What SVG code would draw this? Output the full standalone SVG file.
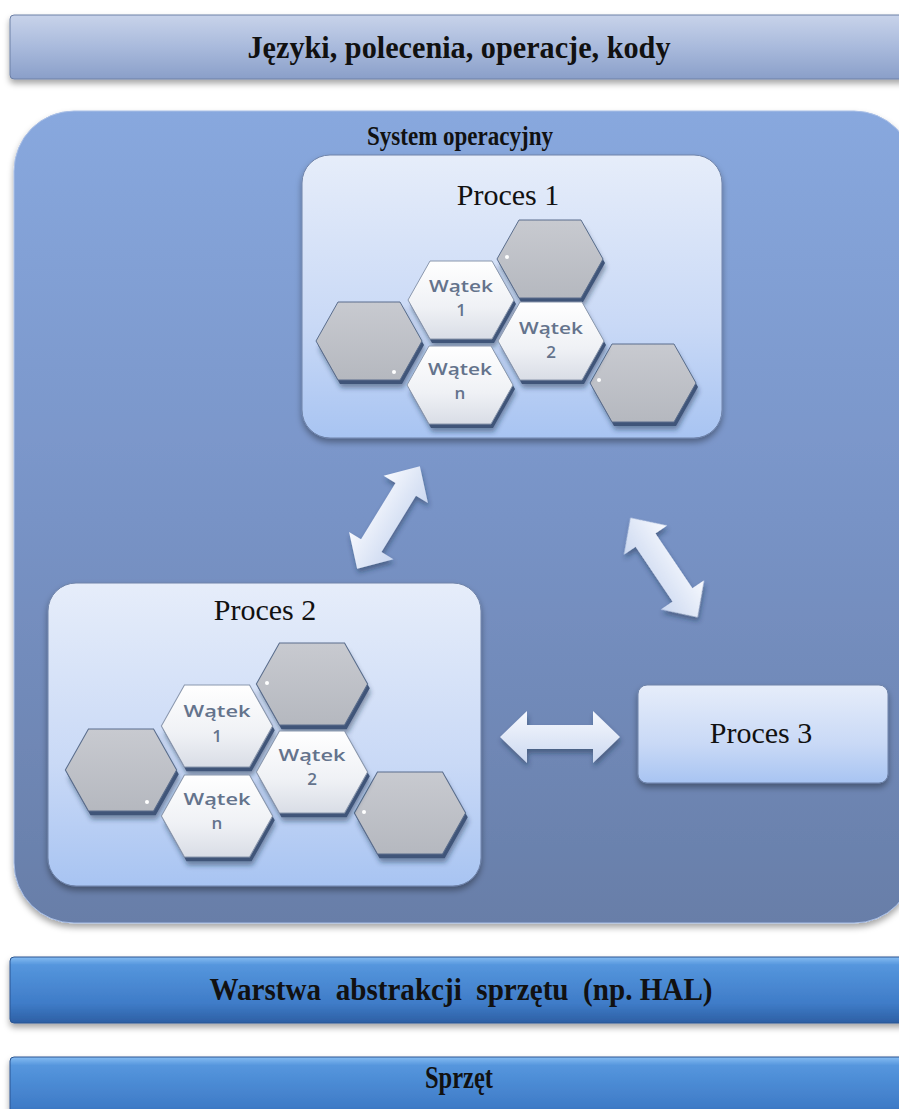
<svg xmlns="http://www.w3.org/2000/svg" xmlns:xlink="http://www.w3.org/1999/xlink" width="899" height="1109" viewBox="0 0 899 1109">
<style>
.title{font-family:"Liberation Serif","Times New Roman",serif;font-weight:bold;fill:#111;text-anchor:middle;white-space:pre}
.proc{font-family:"Liberation Serif","Times New Roman",serif;font-size:30px;fill:#111;text-anchor:middle}
.hx{font-family:"Open Sans","Noto Sans",sans-serif;font-weight:600;font-size:17px;fill:#64738c;text-anchor:middle}
.dot{fill:#fff}
</style>
<defs>
<linearGradient id="gTop" x1="0" y1="0" x2="0" y2="1">
<stop offset="0" stop-color="#c8d3ea"/><stop offset="0.5" stop-color="#a9badc"/><stop offset="1" stop-color="#8a9fc9"/>
</linearGradient>
<linearGradient id="gBlue" x1="0" y1="0" x2="0" y2="1">
<stop offset="0" stop-color="#86bcf2"/><stop offset="0.12" stop-color="#5596dd"/><stop offset="0.7" stop-color="#3f7cc8"/><stop offset="1" stop-color="#2d5fa4"/>
</linearGradient>
<linearGradient id="gOS" x1="0" y1="0" x2="0" y2="1">
<stop offset="0" stop-color="#88a8de"/><stop offset="0.5" stop-color="#7893c6"/><stop offset="1" stop-color="#687ea8"/>
</linearGradient>
<linearGradient id="gProc" x1="0" y1="0" x2="0" y2="1">
<stop offset="0" stop-color="#e6edfa"/><stop offset="0.6" stop-color="#c9d9f6"/><stop offset="1" stop-color="#a8c4f2"/>
</linearGradient>
<linearGradient id="gHexW" x1="0" y1="0" x2="0" y2="1">
<stop offset="0" stop-color="#ffffff"/><stop offset="0.6" stop-color="#eff1f5"/><stop offset="1" stop-color="#d9dde6"/>
</linearGradient>
<linearGradient id="gHexG" x1="0" y1="0" x2="0" y2="1">
<stop offset="0" stop-color="#c8cad0"/><stop offset="1" stop-color="#b5b8bf"/>
</linearGradient>
<linearGradient id="gArrow" x1="0" y1="0" x2="0" y2="1">
<stop offset="0" stop-color="#f7f9fe"/><stop offset="1" stop-color="#cbd8f0"/>
</linearGradient>
<filter id="shadow" x="-10%" y="-10%" width="120%" height="130%">
<feDropShadow dx="0" dy="4" stdDeviation="3" flood-color="#000" flood-opacity="0.35"/>
</filter>
<filter id="shadowS" x="-20%" y="-20%" width="140%" height="150%">
<feDropShadow dx="1" dy="4" stdDeviation="2.5" flood-color="#1a2a45" flood-opacity="0.45"/>
</filter>
<polygon id="hex" points="-53,0 -31,-39 31,-39 53,0 31,39 -31,39"/>
<g id="hexGray">
<use xlink:href="#hex" transform="translate(2,4)" fill="#3f5479" filter="url(#shadowS)"/>
<use xlink:href="#hex" fill="url(#gHexG)" stroke="#5a6d8c" stroke-width="1"/>
</g>
<g id="hexWhite">
<use xlink:href="#hex" transform="translate(2,4)" fill="#3f5479" filter="url(#shadowS)"/>
<use xlink:href="#hex" fill="url(#gHexW)" stroke="#8a97ad" stroke-width="1"/>
</g>
<path id="dblArrow" d="M -60 0 L -33 -26 L -33 -12 L 33 -12 L 33 -26 L 60 0 L 33 26 L 33 12 L -33 12 L -33 26 Z"/>
</defs>

<rect width="899" height="1109" fill="#ffffff"/>

<g id="top-bar">
<rect x="10" y="15" width="900" height="64" rx="4" fill="url(#gTop)" stroke="#6d80a6" stroke-width="1" filter="url(#shadow)"/>
<text class="title" x="459" y="58" font-size="32" textLength="423" lengthAdjust="spacingAndGlyphs">Języki, polecenia, operacje, kody</text>
</g>

<g id="os">
<rect x="14" y="111" width="900" height="812" rx="60" fill="url(#gOS)" stroke="#a9bfe6" stroke-width="1" filter="url(#shadow)"/>
<text class="title" x="460" y="145" font-size="27" textLength="186" lengthAdjust="spacingAndGlyphs">System operacyjny</text>
</g>

<g id="proces1">
<rect x="302" y="155" width="420" height="283" rx="28" fill="url(#gProc)" stroke="#6e82a8" stroke-width="1" filter="url(#shadow)"/>
<text class="proc" x="508" y="205">Proces 1</text>
<g id="p1-hex-gray-left"><use xlink:href="#hexGray" transform="translate(369,341)"/><circle class="dot" cx="394" cy="372" r="2"/></g>
<g id="p1-hex-gray-top"><use xlink:href="#hexGray" transform="translate(550,259)"/><circle class="dot" cx="507" cy="257" r="2"/></g>
<g id="p1-hex-gray-right"><use xlink:href="#hexGray" transform="translate(643,383)"/><circle class="dot" cx="599" cy="380" r="2"/></g>
<g id="p1-watek1"><use xlink:href="#hexWhite" transform="translate(461,300)"/>
<text class="hx" x="461" y="292" textLength="64" lengthAdjust="spacingAndGlyphs">Wątek</text><text class="hx" x="461" y="316">1</text></g>
<g id="p1-watek2"><use xlink:href="#hexWhite" transform="translate(551,341)"/>
<text class="hx" x="551" y="334" textLength="64" lengthAdjust="spacingAndGlyphs">Wątek</text><text class="hx" x="551" y="358">2</text></g>
<g id="p1-watekn"><use xlink:href="#hexWhite" transform="translate(460,385)"/>
<text class="hx" x="460" y="375" textLength="64" lengthAdjust="spacingAndGlyphs">Wątek</text><text class="hx" x="460" y="399">n</text></g>
</g>

<g id="proces2">
<rect x="48" y="583" width="433" height="303" rx="28" fill="url(#gProc)" stroke="#6e82a8" stroke-width="1" filter="url(#shadow)"/>
<text class="proc" x="265" y="620">Proces 2</text>
<g id="p2-hex-gray-top"><use xlink:href="#hexGray" transform="translate(312,684) scale(1.05)"/><circle class="dot" cx="267" cy="683" r="2"/></g>
<g id="p2-hex-gray-left"><use xlink:href="#hexGray" transform="translate(121,770) scale(1.05)"/><circle class="dot" cx="147" cy="802" r="2"/></g>
<g id="p2-hex-gray-right"><use xlink:href="#hexGray" transform="translate(410,813) scale(1.05)"/><circle class="dot" cx="364" cy="812" r="2"/></g>
<g id="p2-watek1"><use xlink:href="#hexWhite" transform="translate(217,726) scale(1.05)"/>
<text class="hx" x="217" y="717" textLength="67" lengthAdjust="spacingAndGlyphs">Wątek</text><text class="hx" x="217" y="742">1</text></g>
<g id="p2-watek2"><use xlink:href="#hexWhite" transform="translate(312,772) scale(1.05)"/>
<text class="hx" x="312" y="761" textLength="67" lengthAdjust="spacingAndGlyphs">Wątek</text><text class="hx" x="312" y="785">2</text></g>
<g id="p2-watekn"><use xlink:href="#hexWhite" transform="translate(217,816) scale(1.05)"/>
<text class="hx" x="217" y="805" textLength="67" lengthAdjust="spacingAndGlyphs">Wątek</text><text class="hx" x="217" y="829">n</text></g>
</g>

<g id="proces3">
<rect x="638" y="685" width="250" height="98" rx="9" fill="url(#gProc)" stroke="#6e82a8" stroke-width="1" filter="url(#shadow)"/>
<text class="proc" x="761" y="743">Proces 3</text>
</g>

<g id="connectors" fill="url(#gArrow)" filter="url(#shadowS)">
<use xlink:href="#dblArrow" transform="translate(388.5,517.5) rotate(-58.5)"/>
<use xlink:href="#dblArrow" transform="translate(664,567.5) rotate(56)"/>
<use xlink:href="#dblArrow" transform="translate(560,737)"/>
</g>

<g id="hal">
<rect x="10" y="957" width="900" height="66" rx="4" fill="url(#gBlue)" stroke="#2b5591" stroke-width="1" filter="url(#shadow)"/>
<text class="title" x="461" y="1000" font-size="32" textLength="503" lengthAdjust="spacingAndGlyphs" xml:space="preserve">Warstwa  abstrakcji  sprzętu  (np. HAL)</text>
</g>

<g id="sprzet">
<rect x="10" y="1057" width="900" height="70" rx="4" fill="url(#gBlue)" stroke="#2b5591" stroke-width="1" filter="url(#shadow)"/>
<text class="title" x="459" y="1088" font-size="32" textLength="68" lengthAdjust="spacingAndGlyphs">Sprzęt</text>
</g>
</svg>
